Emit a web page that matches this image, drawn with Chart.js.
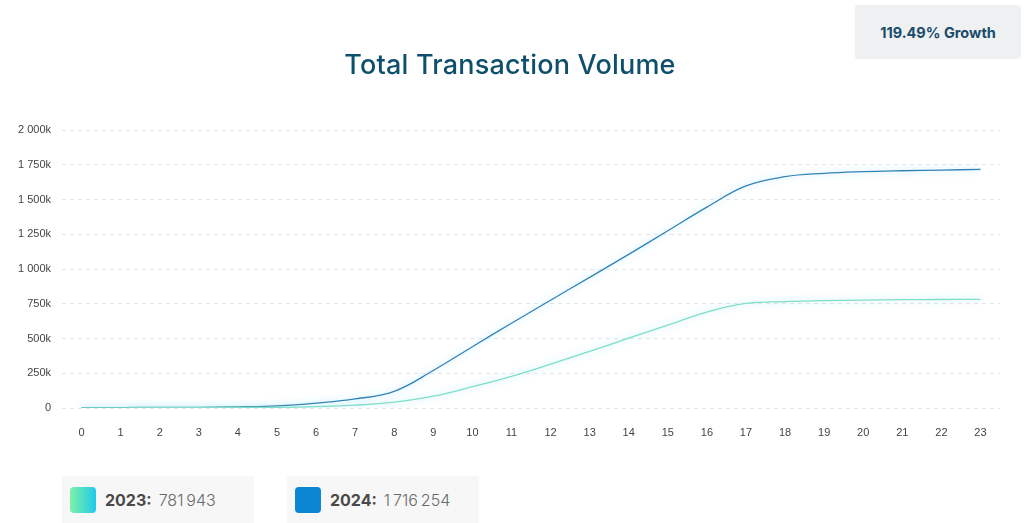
<!DOCTYPE html>
<html>
<head>
<meta charset="utf-8">
<script src="https://cdn.jsdelivr.net/npm/chart.js@4"></script>
<style>
  html,body{margin:0;padding:0;background:#fff;width:1024px;height:523px;overflow:hidden;font-family:"Open Sans",Inter,sans-serif;}
  #wrap{position:absolute;left:0;top:0;width:1024px;height:523px;}
  #title{position:absolute;left:0;width:1020px;top:48px;text-align:center;font-family:Inter,"Open Sans",sans-serif;font-size:27px;font-weight:500;color:#0e4f6b;letter-spacing:0.2px;}
  #growth{position:absolute;left:855px;top:5px;width:166px;height:54px;background:#eef0f2;border-radius:3px;display:flex;align-items:center;justify-content:center;font-family:Inter,sans-serif;font-weight:700;font-size:14.5px;color:#1a4b6a;}
  .leg{position:absolute;top:476px;height:47px;width:192px;background:#f7f7f7;display:flex;align-items:center;font-family:Inter,sans-serif;font-size:16px;color:#6a6a6a;}
  .sw{width:26px;height:26px;border-radius:4px;margin-left:8px;margin-right:9px;}
  .leg b{color:#4a4a4a;font-weight:700;margin-right:7px;}
  .leg span{font-weight:300;}
</style>
</head>
<body>
<div id="wrap"><canvas id="c" width="1024" height="523"></canvas></div>
<div id="title">Total Transaction Volume</div>
<div id="growth">119.49% Growth</div>
<div class="leg" style="left:62px;"><div class="sw" style="background:linear-gradient(90deg,#7ef2a6,#1ec9ea);"></div><b>2023:</b><span id="t23"></span></div>
<div class="leg" style="left:287px;"><div class="sw" style="background:#0a86d2;"></div><b>2024:</b><span id="t24"></span></div>
<script>
const hours = ["0","1","2","3","4","5","6","7","8","9","10","11","12","13","14","15","16","17","18","19","20","21","22","23"];
const values2023 = [1000,1500,2000,2500,3500,5000,10000,20000,42000,85000,153000,228000,315000,408000,502000,597000,690000,752000,766000,772000,776000,779000,780500,781943];
const values2024 = [2000,3000,4000,5000,8000,15000,35000,65000,120000,270000,441000,610000,775000,940000,1105000,1275000,1445000,1598000,1664000,1688000,1700000,1707000,1712000,1716254];
const yTicks = [0,250000,500000,750000,1000000,1250000,1500000,1750000,2000000];
const total2023 = 781943;
const total2024 = 1716254;

function spaced(n){return String(n).replace(/\B(?=(\d{3})+(?!\d))/g,"\u2009");}
document.getElementById('t23').textContent = spaced(total2023);
document.getElementById('t24').textContent = spaced(total2024);

const glow = {
  id:'glow',
  beforeDatasetDraw(chart){const c=chart.ctx;c.save();c.shadowColor='rgba(60,200,255,0.45)';c.shadowBlur=7;},
  afterDatasetDraw(chart){chart.ctx.restore();}
};

new Chart(document.getElementById('c'),{
  type:'line',
  data:{labels:hours,datasets:[
    {label:'2023',data:values2023,borderColor:'#7fdfc6',borderWidth:1.3,pointRadius:0,tension:0.4,fill:false},
    {label:'2024',data:values2024,borderColor:'#3483b5',borderWidth:1.3,pointRadius:0,tension:0.4,fill:false}
  ]},
  options:{
    responsive:false,animation:false,
    layout:{padding:{left:0,right:24,top:130,bottom:85}},
    plugins:{legend:{display:false},tooltip:{enabled:false},title:{display:false}},
    scales:{
      x:{offset:true,grid:{display:false},border:{display:false},
         ticks:{color:'#444',font:{family:'"Liberation Sans",Arial,sans-serif',size:11},padding:10,maxRotation:0,autoSkip:false},
         afterFit(s){s.height=30;}},
      y:{min:0,max:2000000,
         afterBuildTicks(s){s.ticks=yTicks.map(v=>({value:v}));},
         grid:{color:'#e6e6e6',drawTicks:false,lineWidth:1},
         border:{display:false,dash:[4,4]},
         ticks:{color:'#444',font:{family:'"Liberation Sans",Arial,sans-serif',size:11},padding:11,
           callback(v){return v===0?'0':String(v/1000).replace(/\B(?=(\d{3})+(?!\d))/g,' ')+'k';}},
         afterFit(s){s.width=62;}}
    }
  },
  plugins:[glow]
});
</script>
</body>
</html>
